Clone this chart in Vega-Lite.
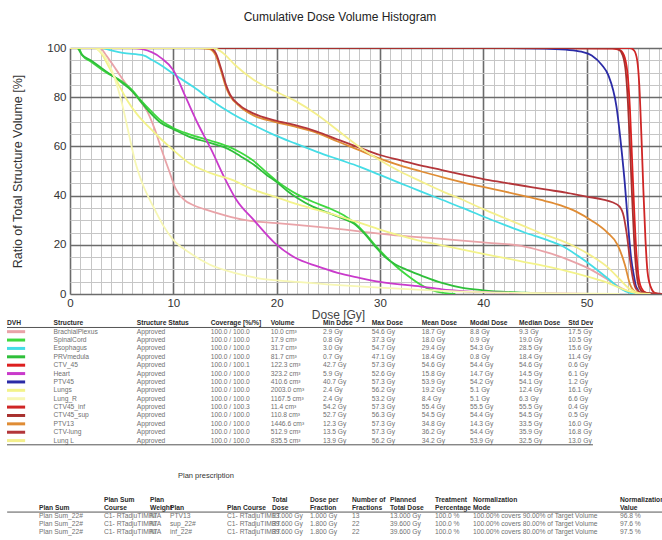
{
  "$schema": "https://vega.github.io/schema/vega-lite/v6.json",
  "width": 592,
  "height": 246,
  "autosize": {"type": "none"},
  "padding": {"left": 70, "top": 48, "right": 0, "bottom": 246},
  "background": "white",
  "config": {"view": {"stroke": null}, "font": "Liberation Sans"},
  "title": {"text": "Cumulative Dose Volume Histogram", "fontSize": 12, "fontWeight": "normal", "color": "#222", "frame": "group", "anchor": "middle", "dx": -26, "offset": 18},
  "datasets": {
    "structures": [
      {"structure": "BrachialPlexus", "status": "Approved", "coverage": "100.0 / 100.0", "volume": "10.0 cm³", "minDose": "2.9 Gy", "maxDose": "54.6 Gy", "meanDose": "18.7 Gy", "modalDose": "8.8 Gy", "medianDose": "9.3 Gy", "stdDev": "17.5 Gy"},
      {"structure": "SpinalCord", "status": "Approved", "coverage": "100.0 / 100.0", "volume": "17.9 cm³", "minDose": "0.8 Gy", "maxDose": "37.3 Gy", "meanDose": "18.0 Gy", "modalDose": "0.9 Gy", "medianDose": "19.0 Gy", "stdDev": "10.5 Gy"},
      {"structure": "Esophagus", "status": "Approved", "coverage": "100.0 / 100.0", "volume": "31.7 cm³", "minDose": "3.0 Gy", "maxDose": "54.7 Gy", "meanDose": "29.4 Gy", "modalDose": "54.3 Gy", "medianDose": "28.5 Gy", "stdDev": "15.6 Gy"},
      {"structure": "PRVmedula", "status": "Approved", "coverage": "100.0 / 100.0", "volume": "81.7 cm³", "minDose": "0.7 Gy", "maxDose": "47.1 Gy", "meanDose": "18.4 Gy", "modalDose": "0.8 Gy", "medianDose": "18.4 Gy", "stdDev": "11.4 Gy"},
      {"structure": "CTV_45", "status": "Approved", "coverage": "100.0 / 100.1", "volume": "122.3 cm³", "minDose": "42.7 Gy", "maxDose": "57.3 Gy", "meanDose": "54.6 Gy", "modalDose": "54.4 Gy", "medianDose": "54.6 Gy", "stdDev": "0.6 Gy"},
      {"structure": "Heart", "status": "Approved", "coverage": "100.0 / 100.0", "volume": "323.2 cm³", "minDose": "5.9 Gy", "maxDose": "52.6 Gy", "meanDose": "15.8 Gy", "modalDose": "14.7 Gy", "medianDose": "14.5 Gy", "stdDev": "6.1 Gy"},
      {"structure": "PTV45", "status": "Approved", "coverage": "100.0 / 100.0", "volume": "410.6 cm³", "minDose": "40.7 Gy", "maxDose": "57.3 Gy", "meanDose": "53.9 Gy", "modalDose": "54.2 Gy", "medianDose": "54.1 Gy", "stdDev": "1.2 Gy"},
      {"structure": "Lungs", "status": "Approved", "coverage": "100.0 / 100.0", "volume": "2003.0 cm³", "minDose": "2.4 Gy", "maxDose": "56.2 Gy", "meanDose": "19.2 Gy", "modalDose": "5.1 Gy", "medianDose": "12.4 Gy", "stdDev": "16.1 Gy"},
      {"structure": "Lung_R", "status": "Approved", "coverage": "100.0 / 100.0", "volume": "1167.5 cm³", "minDose": "2.4 Gy", "maxDose": "53.2 Gy", "meanDose": "8.4 Gy", "modalDose": "5.1 Gy", "medianDose": "6.3 Gy", "stdDev": "6.6 Gy"},
      {"structure": "CTV45_inf", "status": "Approved", "coverage": "100.0 / 100.3", "volume": "11.4 cm³", "minDose": "54.2 Gy", "maxDose": "57.3 Gy", "meanDose": "55.4 Gy", "modalDose": "55.5 Gy", "medianDose": "55.5 Gy", "stdDev": "0.4 Gy"},
      {"structure": "CTV45_sup", "status": "Approved", "coverage": "100.0 / 100.0", "volume": "110.8 cm³", "minDose": "52.7 Gy", "maxDose": "56.3 Gy", "meanDose": "54.5 Gy", "modalDose": "54.4 Gy", "medianDose": "54.5 Gy", "stdDev": "0.5 Gy"},
      {"structure": "PTV13", "status": "Approved", "coverage": "100.0 / 100.0", "volume": "1446.6 cm³", "minDose": "12.3 Gy", "maxDose": "57.3 Gy", "meanDose": "34.8 Gy", "modalDose": "14.3 Gy", "medianDose": "33.5 Gy", "stdDev": "16.0 Gy"},
      {"structure": "CTV-lung", "status": "Approved", "coverage": "100.0 / 100.0", "volume": "512.9 cm³", "minDose": "13.5 Gy", "maxDose": "57.3 Gy", "meanDose": "36.2 Gy", "modalDose": "54.4 Gy", "medianDose": "35.9 Gy", "stdDev": "16.8 Gy"},
      {"structure": "Lung L", "status": "Approved", "coverage": "100.0 / 100.0", "volume": "835.5 cm³", "minDose": "13.9 Gy", "maxDose": "56.2 Gy", "meanDose": "34.2 Gy", "modalDose": "53.9 Gy", "medianDose": "32.5 Gy", "stdDev": "13.0 Gy"}
    ],
    "cols1": [
      {"key": "dvh", "header": "DVH", "idx": 0},
      {"key": "structure", "header": "Structure", "idx": 1},
      {"key": "status", "header": "Structure Status", "idx": 2},
      {"key": "coverage", "header": "Coverage [%/%]", "idx": 3},
      {"key": "volume", "header": "Volume", "idx": 4},
      {"key": "minDose", "header": "Min Dose", "idx": 5},
      {"key": "maxDose", "header": "Max Dose", "idx": 6},
      {"key": "meanDose", "header": "Mean Dose", "idx": 7},
      {"key": "modalDose", "header": "Modal Dose", "idx": 8},
      {"key": "medianDose", "header": "Median Dose", "idx": 9},
      {"key": "stdDev", "header": "Std Dev", "idx": 10}
    ],
    "cols2": [
      {"key": "planSum", "line1": "", "line2": "Plan Sum", "idx": 0},
      {"key": "planSumCourse", "line1": "Plan Sum", "line2": "Course", "idx": 1},
      {"key": "planWeight", "line1": "Plan", "line2": "Weight", "idx": 2},
      {"key": "plan", "line1": "", "line2": "Plan", "idx": 3},
      {"key": "planCourse", "line1": "", "line2": "Plan Course", "idx": 4},
      {"key": "totalDose", "line1": "Total", "line2": "Dose", "idx": 5},
      {"key": "dosePerFraction", "line1": "Dose per", "line2": "Fraction", "idx": 6},
      {"key": "fractions", "line1": "Number of", "line2": "Fractions", "idx": 7},
      {"key": "plannedTotalDose", "line1": "Planned", "line2": "Total Dose", "idx": 8},
      {"key": "treatmentPercentage", "line1": "Treatment", "line2": "Percentage", "idx": 9},
      {"key": "normalizationMode", "line1": "Normalization", "line2": "Mode", "idx": 10},
      {"key": "normalizationValue", "line1": "Normalization", "line2": "Value", "idx": 11}
    ],
    "plans": [
      {"planSum": "Plan Sum_22#", "planSumCourse": "C1- RTadjuTIMRT", "planWeight": "N/A", "plan": "PTV13", "planCourse": "C1- RTadjuTIMRT", "totalDose": "13.000 Gy", "dosePerFraction": "1.000 Gy", "fractions": "13", "plannedTotalDose": "13.000 Gy", "treatmentPercentage": "100.0 %", "normalizationMode": "100.00% covers 90.00% of Target Volume", "normalizationValue": "96.8 %"},
      {"planSum": "Plan Sum_22#", "planSumCourse": "C1- RTadjuTIMRT", "planWeight": "N/A", "plan": "sup_22#", "planCourse": "C1- RTadjuTIMRT", "totalDose": "39.600 Gy", "dosePerFraction": "1.800 Gy", "fractions": "22", "plannedTotalDose": "39.600 Gy", "treatmentPercentage": "100.0 %", "normalizationMode": "100.00% covers 80.00% of Target Volume", "normalizationValue": "97.6 %"},
      {"planSum": "Plan Sum_22#", "planSumCourse": "C1- RTadjuTIMRT", "planWeight": "N/A", "plan": "inf_22#", "planCourse": "C1- RTadjuTIMRT", "totalDose": "39.600 Gy", "dosePerFraction": "1.800 Gy", "fractions": "22", "plannedTotalDose": "39.600 Gy", "treatmentPercentage": "100.0 %", "normalizationMode": "100.00% covers 80.00% of Target Volume", "normalizationValue": "97.5 %"}
    ],
    "dvh": [
      {"structure": "BrachialPlexus", "dose": 0, "volume": 100}, {"structure": "BrachialPlexus", "dose": 2.9, "volume": 100}, {"structure": "BrachialPlexus", "dose": 3.5, "volume": 97}, {"structure": "BrachialPlexus", "dose": 4.5, "volume": 91}, {"structure": "BrachialPlexus", "dose": 5.5, "volume": 85}, {"structure": "BrachialPlexus", "dose": 6.5, "volume": 80}, {"structure": "BrachialPlexus", "dose": 7.5, "volume": 74}, {"structure": "BrachialPlexus", "dose": 8.2, "volume": 67}, {"structure": "BrachialPlexus", "dose": 9, "volume": 57}, {"structure": "BrachialPlexus", "dose": 9.6, "volume": 50}, {"structure": "BrachialPlexus", "dose": 10.2, "volume": 43}, {"structure": "BrachialPlexus", "dose": 11, "volume": 38.5}, {"structure": "BrachialPlexus", "dose": 12, "volume": 36}, {"structure": "BrachialPlexus", "dose": 13, "volume": 34.5}, {"structure": "BrachialPlexus", "dose": 15, "volume": 32}, {"structure": "BrachialPlexus", "dose": 17, "volume": 30}, {"structure": "BrachialPlexus", "dose": 20, "volume": 28.8}, {"structure": "BrachialPlexus", "dose": 24, "volume": 27.3}, {"structure": "BrachialPlexus", "dose": 28, "volume": 25.5}, {"structure": "BrachialPlexus", "dose": 32, "volume": 23.7}, {"structure": "BrachialPlexus", "dose": 36, "volume": 22.4}, {"structure": "BrachialPlexus", "dose": 40, "volume": 21}, {"structure": "BrachialPlexus", "dose": 44, "volume": 19.3}, {"structure": "BrachialPlexus", "dose": 46.5, "volume": 16.5}, {"structure": "BrachialPlexus", "dose": 48.5, "volume": 13.5}, {"structure": "BrachialPlexus", "dose": 50, "volume": 10.8}, {"structure": "BrachialPlexus", "dose": 52, "volume": 6}, {"structure": "BrachialPlexus", "dose": 53.3, "volume": 2.5}, {"structure": "BrachialPlexus", "dose": 54.6, "volume": 0},
      {"structure": "SpinalCord", "dose": 0, "volume": 100}, {"structure": "SpinalCord", "dose": 0.8, "volume": 100}, {"structure": "SpinalCord", "dose": 1.2, "volume": 97}, {"structure": "SpinalCord", "dose": 2, "volume": 94.5}, {"structure": "SpinalCord", "dose": 3.5, "volume": 90}, {"structure": "SpinalCord", "dose": 5, "volume": 86.5}, {"structure": "SpinalCord", "dose": 6, "volume": 83}, {"structure": "SpinalCord", "dose": 6.8, "volume": 79}, {"structure": "SpinalCord", "dose": 7.8, "volume": 74.5}, {"structure": "SpinalCord", "dose": 8.8, "volume": 70.5}, {"structure": "SpinalCord", "dose": 10, "volume": 67.5}, {"structure": "SpinalCord", "dose": 11.5, "volume": 65}, {"structure": "SpinalCord", "dose": 13.5, "volume": 62.5}, {"structure": "SpinalCord", "dose": 15.3, "volume": 60}, {"structure": "SpinalCord", "dose": 16.5, "volume": 57.5}, {"structure": "SpinalCord", "dose": 17.8, "volume": 54}, {"structure": "SpinalCord", "dose": 19, "volume": 49.5}, {"structure": "SpinalCord", "dose": 20, "volume": 46}, {"structure": "SpinalCord", "dose": 21, "volume": 43}, {"structure": "SpinalCord", "dose": 22, "volume": 40.5}, {"structure": "SpinalCord", "dose": 23.5, "volume": 37.5}, {"structure": "SpinalCord", "dose": 25, "volume": 35}, {"structure": "SpinalCord", "dose": 26.5, "volume": 32}, {"structure": "SpinalCord", "dose": 27.5, "volume": 29}, {"structure": "SpinalCord", "dose": 28.5, "volume": 25}, {"structure": "SpinalCord", "dose": 29.5, "volume": 20}, {"structure": "SpinalCord", "dose": 30.5, "volume": 15.5}, {"structure": "SpinalCord", "dose": 31.5, "volume": 11.5}, {"structure": "SpinalCord", "dose": 32.5, "volume": 8}, {"structure": "SpinalCord", "dose": 33.5, "volume": 5}, {"structure": "SpinalCord", "dose": 34.5, "volume": 2.5}, {"structure": "SpinalCord", "dose": 35.5, "volume": 1}, {"structure": "SpinalCord", "dose": 37.3, "volume": 0},
      {"structure": "Esophagus", "dose": 0, "volume": 100}, {"structure": "Esophagus", "dose": 3, "volume": 100}, {"structure": "Esophagus", "dose": 4, "volume": 99}, {"structure": "Esophagus", "dose": 5.1, "volume": 98}, {"structure": "Esophagus", "dose": 7.1, "volume": 97}, {"structure": "Esophagus", "dose": 8, "volume": 95}, {"structure": "Esophagus", "dose": 9, "volume": 92.5}, {"structure": "Esophagus", "dose": 10, "volume": 89.5}, {"structure": "Esophagus", "dose": 12, "volume": 84}, {"structure": "Esophagus", "dose": 13.7, "volume": 78.7}, {"structure": "Esophagus", "dose": 15.7, "volume": 73.3}, {"structure": "Esophagus", "dose": 17.8, "volume": 68.6}, {"structure": "Esophagus", "dose": 19.8, "volume": 64.6}, {"structure": "Esophagus", "dose": 21.8, "volume": 61.2}, {"structure": "Esophagus", "dose": 23.9, "volume": 57.8}, {"structure": "Esophagus", "dose": 26, "volume": 54.7}, {"structure": "Esophagus", "dose": 28, "volume": 51.8}, {"structure": "Esophagus", "dose": 30, "volume": 48.4}, {"structure": "Esophagus", "dose": 32, "volume": 45}, {"structure": "Esophagus", "dose": 34, "volume": 41.6}, {"structure": "Esophagus", "dose": 36, "volume": 38.3}, {"structure": "Esophagus", "dose": 38, "volume": 35}, {"structure": "Esophagus", "dose": 40, "volume": 31.5}, {"structure": "Esophagus", "dose": 42, "volume": 28.2}, {"structure": "Esophagus", "dose": 44, "volume": 25}, {"structure": "Esophagus", "dose": 46, "volume": 22.2}, {"structure": "Esophagus", "dose": 47.5, "volume": 19.8}, {"structure": "Esophagus", "dose": 49, "volume": 16}, {"structure": "Esophagus", "dose": 50.5, "volume": 11.5}, {"structure": "Esophagus", "dose": 52, "volume": 6.5}, {"structure": "Esophagus", "dose": 53, "volume": 3}, {"structure": "Esophagus", "dose": 53.8, "volume": 1}, {"structure": "Esophagus", "dose": 54.7, "volume": 0},
      {"structure": "PRVmedula", "dose": 0, "volume": 100}, {"structure": "PRVmedula", "dose": 0.7, "volume": 100}, {"structure": "PRVmedula", "dose": 1.1, "volume": 97.5}, {"structure": "PRVmedula", "dose": 2, "volume": 95}, {"structure": "PRVmedula", "dose": 3.5, "volume": 90.5}, {"structure": "PRVmedula", "dose": 5, "volume": 86}, {"structure": "PRVmedula", "dose": 6, "volume": 82.5}, {"structure": "PRVmedula", "dose": 6.8, "volume": 78.5}, {"structure": "PRVmedula", "dose": 7.8, "volume": 73.5}, {"structure": "PRVmedula", "dose": 8.8, "volume": 69.5}, {"structure": "PRVmedula", "dose": 10, "volume": 67}, {"structure": "PRVmedula", "dose": 11.5, "volume": 64}, {"structure": "PRVmedula", "dose": 13.5, "volume": 61.5}, {"structure": "PRVmedula", "dose": 15.3, "volume": 59}, {"structure": "PRVmedula", "dose": 16.5, "volume": 56}, {"structure": "PRVmedula", "dose": 17.8, "volume": 52.5}, {"structure": "PRVmedula", "dose": 19, "volume": 48.5}, {"structure": "PRVmedula", "dose": 20, "volume": 45.5}, {"structure": "PRVmedula", "dose": 21, "volume": 42}, {"structure": "PRVmedula", "dose": 22, "volume": 39}, {"structure": "PRVmedula", "dose": 23.5, "volume": 35.5}, {"structure": "PRVmedula", "dose": 25, "volume": 33}, {"structure": "PRVmedula", "dose": 26.5, "volume": 30.5}, {"structure": "PRVmedula", "dose": 27.5, "volume": 28.5}, {"structure": "PRVmedula", "dose": 28.5, "volume": 24.5}, {"structure": "PRVmedula", "dose": 29.5, "volume": 19.5}, {"structure": "PRVmedula", "dose": 30.5, "volume": 15}, {"structure": "PRVmedula", "dose": 31.5, "volume": 12}, {"structure": "PRVmedula", "dose": 32.5, "volume": 10}, {"structure": "PRVmedula", "dose": 34, "volume": 7.5}, {"structure": "PRVmedula", "dose": 36, "volume": 4.5}, {"structure": "PRVmedula", "dose": 38, "volume": 2.5}, {"structure": "PRVmedula", "dose": 40, "volume": 1.5}, {"structure": "PRVmedula", "dose": 44, "volume": 0.5}, {"structure": "PRVmedula", "dose": 47.1, "volume": 0},
      {"structure": "CTV_45", "dose": 0, "volume": 100}, {"structure": "CTV_45", "dose": 42.7, "volume": 100}, {"structure": "CTV_45", "dose": 52.5, "volume": 99.8}, {"structure": "CTV_45", "dose": 53.3, "volume": 99}, {"structure": "CTV_45", "dose": 53.7, "volume": 96}, {"structure": "CTV_45", "dose": 54, "volume": 88}, {"structure": "CTV_45", "dose": 54.2, "volume": 75}, {"structure": "CTV_45", "dose": 54.4, "volume": 55}, {"structure": "CTV_45", "dose": 54.6, "volume": 35}, {"structure": "CTV_45", "dose": 54.8, "volume": 18}, {"structure": "CTV_45", "dose": 55, "volume": 8}, {"structure": "CTV_45", "dose": 55.3, "volume": 2.5}, {"structure": "CTV_45", "dose": 55.8, "volume": 0.5}, {"structure": "CTV_45", "dose": 57.3, "volume": 0},
      {"structure": "Heart", "dose": 0, "volume": 100}, {"structure": "Heart", "dose": 5.9, "volume": 100}, {"structure": "Heart", "dose": 7, "volume": 99.5}, {"structure": "Heart", "dose": 8.8, "volume": 96}, {"structure": "Heart", "dose": 10, "volume": 91}, {"structure": "Heart", "dose": 11.2, "volume": 80}, {"structure": "Heart", "dose": 12.4, "volume": 69}, {"structure": "Heart", "dose": 13.7, "volume": 58.5}, {"structure": "Heart", "dose": 14.9, "volume": 47.7}, {"structure": "Heart", "dose": 16.1, "volume": 38.3}, {"structure": "Heart", "dose": 17.8, "volume": 30}, {"structure": "Heart", "dose": 19.8, "volume": 20.8}, {"structure": "Heart", "dose": 21.8, "volume": 14.7}, {"structure": "Heart", "dose": 23.9, "volume": 11.3}, {"structure": "Heart", "dose": 25.9, "volume": 8.6}, {"structure": "Heart", "dose": 28, "volume": 6.6}, {"structure": "Heart", "dose": 30, "volume": 4.9}, {"structure": "Heart", "dose": 34, "volume": 3}, {"structure": "Heart", "dose": 36, "volume": 1.9}, {"structure": "Heart", "dose": 38, "volume": 1.2}, {"structure": "Heart", "dose": 42, "volume": 0.5}, {"structure": "Heart", "dose": 46, "volume": 0.2}, {"structure": "Heart", "dose": 52.6, "volume": 0},
      {"structure": "PTV45", "dose": 0, "volume": 100}, {"structure": "PTV45", "dose": 40.7, "volume": 100}, {"structure": "PTV45", "dose": 46, "volume": 99.8}, {"structure": "PTV45", "dose": 48, "volume": 99.3}, {"structure": "PTV45", "dose": 49.5, "volume": 98.5}, {"structure": "PTV45", "dose": 50.5, "volume": 97}, {"structure": "PTV45", "dose": 51.5, "volume": 93}, {"structure": "PTV45", "dose": 52.1, "volume": 89}, {"structure": "PTV45", "dose": 52.9, "volume": 76}, {"structure": "PTV45", "dose": 53.4, "volume": 58}, {"structure": "PTV45", "dose": 53.7, "volume": 45}, {"structure": "PTV45", "dose": 54, "volume": 29}, {"structure": "PTV45", "dose": 54.3, "volume": 15}, {"structure": "PTV45", "dose": 54.6, "volume": 7}, {"structure": "PTV45", "dose": 54.8, "volume": 3}, {"structure": "PTV45", "dose": 55.3, "volume": 0.4}, {"structure": "PTV45", "dose": 57.3, "volume": 0},
      {"structure": "Lungs", "dose": 0, "volume": 100}, {"structure": "Lungs", "dose": 2.4, "volume": 100}, {"structure": "Lungs", "dose": 3, "volume": 98}, {"structure": "Lungs", "dose": 3.8, "volume": 92}, {"structure": "Lungs", "dose": 4.6, "volume": 86}, {"structure": "Lungs", "dose": 5.5, "volume": 79}, {"structure": "Lungs", "dose": 6.5, "volume": 73}, {"structure": "Lungs", "dose": 7.6, "volume": 68}, {"structure": "Lungs", "dose": 8.8, "volume": 63}, {"structure": "Lungs", "dose": 10, "volume": 58.5}, {"structure": "Lungs", "dose": 11.6, "volume": 53}, {"structure": "Lungs", "dose": 13.7, "volume": 49}, {"structure": "Lungs", "dose": 15.7, "volume": 46.4}, {"structure": "Lungs", "dose": 17.8, "volume": 42.3}, {"structure": "Lungs", "dose": 19.8, "volume": 39.6}, {"structure": "Lungs", "dose": 21.8, "volume": 36.7}, {"structure": "Lungs", "dose": 23.9, "volume": 34.2}, {"structure": "Lungs", "dose": 25.9, "volume": 31.8}, {"structure": "Lungs", "dose": 28, "volume": 29}, {"structure": "Lungs", "dose": 30, "volume": 26.2}, {"structure": "Lungs", "dose": 32, "volume": 23.7}, {"structure": "Lungs", "dose": 34, "volume": 21.5}, {"structure": "Lungs", "dose": 36, "volume": 19.8}, {"structure": "Lungs", "dose": 38, "volume": 18}, {"structure": "Lungs", "dose": 40, "volume": 16.3}, {"structure": "Lungs", "dose": 42, "volume": 14.7}, {"structure": "Lungs", "dose": 44, "volume": 13}, {"structure": "Lungs", "dose": 46, "volume": 11.3}, {"structure": "Lungs", "dose": 48, "volume": 9.4}, {"structure": "Lungs", "dose": 50, "volume": 7.2}, {"structure": "Lungs", "dose": 52, "volume": 4.6}, {"structure": "Lungs", "dose": 53.5, "volume": 2}, {"structure": "Lungs", "dose": 54.5, "volume": 0.7}, {"structure": "Lungs", "dose": 56.2, "volume": 0},
      {"structure": "Lung_R", "dose": 0, "volume": 100}, {"structure": "Lung_R", "dose": 2.4, "volume": 100}, {"structure": "Lung_R", "dose": 3, "volume": 98.5}, {"structure": "Lung_R", "dose": 3.6, "volume": 95}, {"structure": "Lung_R", "dose": 4.3, "volume": 88}, {"structure": "Lung_R", "dose": 5, "volume": 78}, {"structure": "Lung_R", "dose": 5.7, "volume": 65}, {"structure": "Lung_R", "dose": 6.3, "volume": 54}, {"structure": "Lung_R", "dose": 7, "volume": 45}, {"structure": "Lung_R", "dose": 8, "volume": 36}, {"structure": "Lung_R", "dose": 9, "volume": 28}, {"structure": "Lung_R", "dose": 10, "volume": 22}, {"structure": "Lung_R", "dose": 11.5, "volume": 17}, {"structure": "Lung_R", "dose": 13.5, "volume": 12}, {"structure": "Lung_R", "dose": 16, "volume": 8.5}, {"structure": "Lung_R", "dose": 18, "volume": 6.6}, {"structure": "Lung_R", "dose": 22, "volume": 4.9}, {"structure": "Lung_R", "dose": 26, "volume": 3.6}, {"structure": "Lung_R", "dose": 30, "volume": 2.6}, {"structure": "Lung_R", "dose": 34, "volume": 1.7}, {"structure": "Lung_R", "dose": 38, "volume": 1}, {"structure": "Lung_R", "dose": 44, "volume": 0.4}, {"structure": "Lung_R", "dose": 53.2, "volume": 0},
      {"structure": "CTV45_inf", "dose": 0, "volume": 100}, {"structure": "CTV45_inf", "dose": 54.2, "volume": 100}, {"structure": "CTV45_inf", "dose": 54.6, "volume": 99}, {"structure": "CTV45_inf", "dose": 54.9, "volume": 95}, {"structure": "CTV45_inf", "dose": 55.1, "volume": 85}, {"structure": "CTV45_inf", "dose": 55.3, "volume": 65}, {"structure": "CTV45_inf", "dose": 55.5, "volume": 42}, {"structure": "CTV45_inf", "dose": 55.7, "volume": 22}, {"structure": "CTV45_inf", "dose": 55.9, "volume": 9}, {"structure": "CTV45_inf", "dose": 56.2, "volume": 3}, {"structure": "CTV45_inf", "dose": 56.6, "volume": 0.5}, {"structure": "CTV45_inf", "dose": 57.3, "volume": 0},
      {"structure": "CTV45_sup", "dose": 0, "volume": 100}, {"structure": "CTV45_sup", "dose": 52.7, "volume": 100}, {"structure": "CTV45_sup", "dose": 53.1, "volume": 99.5}, {"structure": "CTV45_sup", "dose": 53.5, "volume": 97}, {"structure": "CTV45_sup", "dose": 53.8, "volume": 90}, {"structure": "CTV45_sup", "dose": 54, "volume": 78}, {"structure": "CTV45_sup", "dose": 54.2, "volume": 60}, {"structure": "CTV45_sup", "dose": 54.4, "volume": 40}, {"structure": "CTV45_sup", "dose": 54.6, "volume": 22}, {"structure": "CTV45_sup", "dose": 54.8, "volume": 10}, {"structure": "CTV45_sup", "dose": 55, "volume": 4}, {"structure": "CTV45_sup", "dose": 55.4, "volume": 1}, {"structure": "CTV45_sup", "dose": 56.3, "volume": 0},
      {"structure": "PTV13", "dose": 0, "volume": 100}, {"structure": "PTV13", "dose": 12.3, "volume": 100}, {"structure": "PTV13", "dose": 13.5, "volume": 99.5}, {"structure": "PTV13", "dose": 14.1, "volume": 97}, {"structure": "PTV13", "dose": 14.6, "volume": 91}, {"structure": "PTV13", "dose": 15.1, "volume": 84}, {"structure": "PTV13", "dose": 15.5, "volume": 80.5}, {"structure": "PTV13", "dose": 16.5, "volume": 76}, {"structure": "PTV13", "dose": 17.8, "volume": 72.5}, {"structure": "PTV13", "dose": 19.8, "volume": 70}, {"structure": "PTV13", "dose": 21.8, "volume": 68}, {"structure": "PTV13", "dose": 23.9, "volume": 65.5}, {"structure": "PTV13", "dose": 25.9, "volume": 62}, {"structure": "PTV13", "dose": 28, "volume": 58.5}, {"structure": "PTV13", "dose": 30, "volume": 55}, {"structure": "PTV13", "dose": 32, "volume": 52.2}, {"structure": "PTV13", "dose": 34, "volume": 49.8}, {"structure": "PTV13", "dose": 36, "volume": 47.5}, {"structure": "PTV13", "dose": 38, "volume": 45.4}, {"structure": "PTV13", "dose": 40, "volume": 43.5}, {"structure": "PTV13", "dose": 42, "volume": 41.7}, {"structure": "PTV13", "dose": 44, "volume": 39.8}, {"structure": "PTV13", "dose": 46, "volume": 37.8}, {"structure": "PTV13", "dose": 47.5, "volume": 36}, {"structure": "PTV13", "dose": 49, "volume": 33.5}, {"structure": "PTV13", "dose": 50.5, "volume": 29.8}, {"structure": "PTV13", "dose": 52, "volume": 25}, {"structure": "PTV13", "dose": 53, "volume": 20}, {"structure": "PTV13", "dose": 53.7, "volume": 12}, {"structure": "PTV13", "dose": 54.2, "volume": 4}, {"structure": "PTV13", "dose": 54.7, "volume": 1}, {"structure": "PTV13", "dose": 55.5, "volume": 0.3}, {"structure": "PTV13", "dose": 57.3, "volume": 0},
      {"structure": "CTV-lung", "dose": 0, "volume": 100}, {"structure": "CTV-lung", "dose": 13.5, "volume": 100}, {"structure": "CTV-lung", "dose": 14.1, "volume": 98}, {"structure": "CTV-lung", "dose": 14.6, "volume": 92}, {"structure": "CTV-lung", "dose": 15.1, "volume": 85}, {"structure": "CTV-lung", "dose": 15.5, "volume": 81}, {"structure": "CTV-lung", "dose": 16.5, "volume": 76.5}, {"structure": "CTV-lung", "dose": 17.8, "volume": 73.3}, {"structure": "CTV-lung", "dose": 19.8, "volume": 70.6}, {"structure": "CTV-lung", "dose": 21.8, "volume": 68.6}, {"structure": "CTV-lung", "dose": 23.9, "volume": 66}, {"structure": "CTV-lung", "dose": 25.9, "volume": 62.8}, {"structure": "CTV-lung", "dose": 28, "volume": 59.5}, {"structure": "CTV-lung", "dose": 30, "volume": 56.5}, {"structure": "CTV-lung", "dose": 32, "volume": 54.3}, {"structure": "CTV-lung", "dose": 34, "volume": 52.2}, {"structure": "CTV-lung", "dose": 36, "volume": 50.4}, {"structure": "CTV-lung", "dose": 38, "volume": 48.5}, {"structure": "CTV-lung", "dose": 40, "volume": 46.7}, {"structure": "CTV-lung", "dose": 42, "volume": 45.3}, {"structure": "CTV-lung", "dose": 44, "volume": 43.9}, {"structure": "CTV-lung", "dose": 46, "volume": 42.5}, {"structure": "CTV-lung", "dose": 48, "volume": 41.2}, {"structure": "CTV-lung", "dose": 50, "volume": 39.6}, {"structure": "CTV-lung", "dose": 51.5, "volume": 38.5}, {"structure": "CTV-lung", "dose": 52.5, "volume": 37.3}, {"structure": "CTV-lung", "dose": 53.2, "volume": 35.5}, {"structure": "CTV-lung", "dose": 53.6, "volume": 31.5}, {"structure": "CTV-lung", "dose": 53.9, "volume": 24}, {"structure": "CTV-lung", "dose": 54.2, "volume": 14}, {"structure": "CTV-lung", "dose": 54.5, "volume": 6}, {"structure": "CTV-lung", "dose": 54.8, "volume": 2}, {"structure": "CTV-lung", "dose": 55.3, "volume": 0.5}, {"structure": "CTV-lung", "dose": 57.3, "volume": 0},
      {"structure": "Lung L", "dose": 0, "volume": 100}, {"structure": "Lung L", "dose": 13.9, "volume": 100}, {"structure": "Lung L", "dose": 14.8, "volume": 98}, {"structure": "Lung L", "dose": 16, "volume": 93}, {"structure": "Lung L", "dose": 17.8, "volume": 87}, {"structure": "Lung L", "dose": 19.8, "volume": 82.5}, {"structure": "Lung L", "dose": 21.8, "volume": 78.5}, {"structure": "Lung L", "dose": 23.9, "volume": 73}, {"structure": "Lung L", "dose": 25.9, "volume": 66.6}, {"structure": "Lung L", "dose": 28, "volume": 59.8}, {"structure": "Lung L", "dose": 30, "volume": 54.4}, {"structure": "Lung L", "dose": 32, "volume": 49.7}, {"structure": "Lung L", "dose": 34, "volume": 45.7}, {"structure": "Lung L", "dose": 36, "volume": 41.8}, {"structure": "Lung L", "dose": 38, "volume": 38.3}, {"structure": "Lung L", "dose": 40, "volume": 34.5}, {"structure": "Lung L", "dose": 42, "volume": 31}, {"structure": "Lung L", "dose": 44, "volume": 27.5}, {"structure": "Lung L", "dose": 46, "volume": 24}, {"structure": "Lung L", "dose": 47.5, "volume": 21.8}, {"structure": "Lung L", "dose": 49, "volume": 19}, {"structure": "Lung L", "dose": 50.5, "volume": 15.4}, {"structure": "Lung L", "dose": 52, "volume": 11}, {"structure": "Lung L", "dose": 53.2, "volume": 6}, {"structure": "Lung L", "dose": 54.2, "volume": 2}, {"structure": "Lung L", "dose": 55, "volume": 0.5}, {"structure": "Lung L", "dose": 56.2, "volume": 0}
    ]
  },
  "layer": [
    {
      "data": {"name": "dvh"},
      "mark": {"type": "line", "strokeWidth": 1.8, "interpolate": "monotone", "clip": true},
      "encoding": {
        "x": {"field": "dose", "type": "quantitative",
          "scale": {"domain": [0, 57.3], "nice": false, "zero": false},
          "axis": {"values": [0,1,2,3,4,5,6,7,8,9,10,11,12,13,14,15,16,17,18,19,20,21,22,23,24,25,26,27,28,29,30,31,32,33,34,35,36,37,38,39,40,41,42,43,44,45,46,47,48,49,50,51,52,53,54,55,56,57],
            "grid": true,
            "gridColor": {"condition": {"test": "datum.value % 10 === 0", "value": "#6b6b6b"}, "value": "#c6c6c6"},
            "gridWidth": {"condition": {"test": "datum.value % 10 === 0", "value": 1.6}, "value": 1},
            "labelExpr": "datum.value % 10 === 0 ? datum.label : ''",
            "labelOverlap": false, "labelFlush": false,
            "ticks": false, "domain": false,
            "labelFontSize": 11.5, "labelColor": "#333", "labelPadding": 3,
            "title": "Dose [Gy]", "titleFontSize": 12, "titleFontWeight": "normal", "titleColor": "#444", "titleX": 268, "titlePadding": 1}},
        "y": {"field": "volume", "type": "quantitative",
          "scale": {"domain": [0, 100], "nice": false},
          "axis": {"values": [0,5,10,15,20,25,30,35,40,45,50,55,60,65,70,75,80,85,90,95,100],
            "grid": true,
            "gridColor": {"condition": {"test": "datum.value % 20 === 0", "value": "#6b6b6b"}, "value": "#c6c6c6"},
            "gridWidth": {"condition": {"test": "datum.value % 20 === 0", "value": 1.6}, "value": 1},
            "labelExpr": "datum.value % 20 === 0 ? datum.label : ''",
            "labelOverlap": false, "labelFlush": false,
            "ticks": false, "domain": false,
            "labelFontSize": 11.5, "labelColor": "#333", "labelPadding": 4,
            "title": "Ratio of Total Structure Volume [%]", "titleFontSize": 12.5, "titleFontWeight": "normal", "titleColor": "#333", "titlePadding": 22}},
        "color": {"field": "structure", "type": "nominal",
          "scale": {"domain": ["BrachialPlexus", "SpinalCord", "Esophagus", "PRVmedula", "CTV_45", "Heart", "PTV45", "Lungs", "Lung_R", "CTV45_inf", "CTV45_sup", "PTV13", "CTV-lung", "Lung L"],
                    "range": ["#e9a3a8", "#3fd83f", "#45dde6", "#2fbf3a", "#dd1f1f", "#c93acb", "#2b2ba6", "#f3f38a", "#f7f7b4", "#cf2626", "#a8302e", "#df8c35", "#b3363a", "#f4ef8c"]},
          "legend": null}
      }
    },
    {
      "layer": [
        {
          "data": {"name": "cols1"},
          "mark": {"type": "text", "align": "left", "baseline": "middle", "fontSize": 6.7, "fontWeight": "bold", "color": "#2a2a2a"},
          "encoding": {
            "x": {"field": "idx", "type": "quantitative", "axis": null, "scale": {"domain": [0,1,2,3,4,5,6,7,8,9,10], "range": [-63, -16.5, 66.7, 140.7, 200.7, 253, 301.7, 351.7, 400, 449, 498.3], "nice": false, "zero": false}},
            "y": {"datum": "header", "type": "nominal", "bandPosition": 0.5, "axis": null,
              "scale": {"type": "band", "domain": ["header", "BrachialPlexus", "SpinalCord", "Esophagus", "PRVmedula", "CTV_45", "Heart", "PTV45", "Lungs", "Lung_R", "CTV45_inf", "CTV45_sup", "PTV13", "CTV-lung", "Lung L"], "range": [271.1, 396.8], "paddingInner": 0, "paddingOuter": 0}},
            "text": {"field": "header"}
          }
        },
        {
          "data": {"name": "structures"},
          "mark": {"type": "rule", "strokeWidth": 3},
          "encoding": {
            "x": {"datum": 0, "type": "quantitative"},
            "x2": {"datum": 0.39},
            "y": {"field": "structure", "type": "nominal", "bandPosition": 0.5},
            "color": {"field": "structure", "type": "nominal",
              "scale": {"domain": ["BrachialPlexus", "SpinalCord", "Esophagus", "PRVmedula", "CTV_45", "Heart", "PTV45", "Lungs", "Lung_R", "CTV45_inf", "CTV45_sup", "PTV13", "CTV-lung", "Lung L"],
                        "range": ["#e9a3a8", "#3fd83f", "#45dde6", "#2fbf3a", "#dd1f1f", "#c93acb", "#2b2ba6", "#f3f38a", "#f7f7b4", "#cf2626", "#a8302e", "#df8c35", "#b3363a", "#f4ef8c"]},
              "legend": null}
          }
        },
        {
          "data": {"name": "structures"},
          "transform": [
            {"fold": ["structure", "status", "coverage", "volume", "minDose", "maxDose", "meanDose", "modalDose", "medianDose", "stdDev"], "as": ["key", "value"]},
            {"lookup": "key", "from": {"data": {"name": "cols1"}, "key": "key", "fields": ["idx"]}}
          ],
          "mark": {"type": "text", "align": "left", "baseline": "middle", "fontSize": 6.7, "color": "#707070"},
          "encoding": {
            "x": {"field": "idx", "type": "quantitative"},
            "y": {"field": "structure", "type": "nominal", "bandPosition": 0.5},
            "text": {"field": "value"}
          }
        },
        {
          "data": {"values": [{}]},
          "mark": {"type": "rule", "color": "#555", "strokeWidth": 1},
          "encoding": {
            "x": {"datum": 0, "type": "quantitative"},
            "x2": {"datum": 10.5},
            "y": {"datum": "header", "type": "nominal", "bandPosition": 1}
          }
        },
        {
          "data": {"values": [{}]},
          "mark": {"type": "rule", "color": "#555", "strokeWidth": 1},
          "encoding": {
            "x": {"datum": 0, "type": "quantitative"},
            "x2": {"datum": 10.5},
            "y": {"datum": "Lung L", "type": "nominal", "bandPosition": 1}
          }
        }
      ]
    },
    {
      "layer": [
        {
          "data": {"values": [{}]},
          "mark": {"type": "text", "align": "left", "baseline": "middle", "fontSize": 7.5, "color": "#333"},
          "encoding": {
            "x": {"datum": 3.14, "type": "quantitative", "axis": null, "scale": {"domain": [0,1,2,3,4,5,6,7,8,9,10,11], "range": [-31, 34, 80, 100, 157, 202, 240, 282, 320, 365, 403, 550], "nice": false, "zero": false}},
            "y": {"datum": "title", "type": "nominal", "bandPosition": 0.5, "axis": null,
              "scale": {"type": "band", "domain": ["title", "gap1", "gap2", "h1", "h2", "PTV13", "sup_22#", "inf_22#"], "range": [423.7, 488.3], "paddingInner": 0, "paddingOuter": 0}},
            "text": {"value": "Plan prescription"}
          }
        },
        {
          "data": {"name": "cols2"},
          "mark": {"type": "text", "align": "left", "baseline": "middle", "fontSize": 6.7, "fontWeight": "bold", "color": "#2a2a2a"},
          "encoding": {
            "x": {"field": "idx", "type": "quantitative"},
            "y": {"datum": "h1", "type": "nominal", "bandPosition": 0.5},
            "text": {"field": "line1"}
          }
        },
        {
          "data": {"name": "cols2"},
          "mark": {"type": "text", "align": "left", "baseline": "middle", "fontSize": 6.7, "fontWeight": "bold", "color": "#2a2a2a"},
          "encoding": {
            "x": {"field": "idx", "type": "quantitative"},
            "y": {"datum": "h2", "type": "nominal", "bandPosition": 0.5},
            "text": {"field": "line2"}
          }
        },
        {
          "data": {"name": "plans"},
          "transform": [
            {"fold": ["planSum", "planSumCourse", "planWeight", "plan", "planCourse", "totalDose", "dosePerFraction", "fractions", "plannedTotalDose", "treatmentPercentage", "normalizationMode", "normalizationValue"], "as": ["key", "value"]},
            {"lookup": "key", "from": {"data": {"name": "cols2"}, "key": "key", "fields": ["idx"]}}
          ],
          "mark": {"type": "text", "align": "left", "baseline": "middle", "fontSize": 6.7, "color": "#707070"},
          "encoding": {
            "x": {"field": "idx", "type": "quantitative"},
            "y": {"field": "plan", "type": "nominal", "bandPosition": 0.5},
            "text": {"field": "value"}
          }
        },
        {
          "data": {"values": [{}]},
          "mark": {"type": "rule", "color": "#555", "strokeWidth": 1},
          "encoding": {
            "x": {"datum": -0.49, "type": "quantitative"},
            "x2": {"datum": 11.3},
            "y": {"datum": "PTV13", "type": "nominal", "bandPosition": 0}
          }
        }
      ]
    }
  ],
  "resolve": {"scale": {"x": "independent", "y": "independent"}, "axis": {"x": "independent", "y": "independent"}}
}
